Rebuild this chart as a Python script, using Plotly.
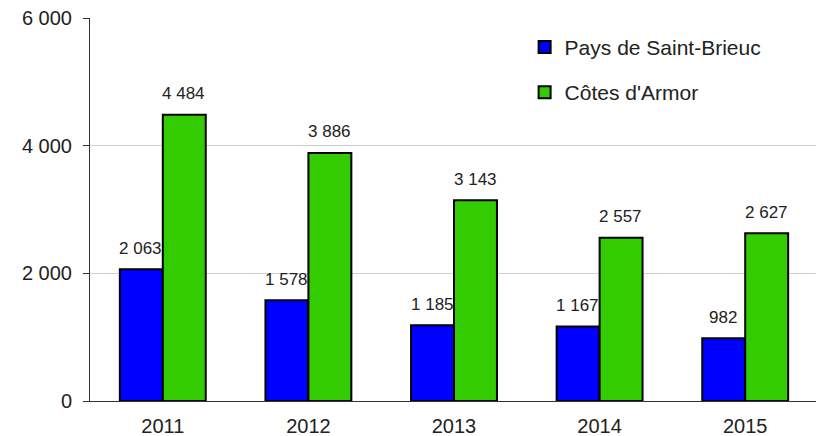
import plotly.graph_objects as go

years = ["2011", "2012", "2013", "2014", "2015"]
pays_sb = [2063, 1578, 1185, 1167, 982]
cotes_armor = [4484, 3886, 3143, 2557, 2627]
series_names = ["Pays de Saint-Brieuc", "Côtes d'Armor"]
tick_vals = [0, 2000, 4000, 6000]
tick_text = ["0", "2 000", "4 000", "6 000"]

def fmt(v):
    return f"{v:,}".replace(",", " ")

font = "Liberation Sans, Arial, sans-serif"
fig = go.Figure()
fig.add_trace(go.Bar(x=years, y=pays_sb, name=series_names[0], legendgroup="a",
                     marker=dict(color="#0000FF", line=dict(color="black", width=2))))
fig.add_trace(go.Bar(x=years, y=cotes_armor, name=series_names[1], legendgroup="b",
                     marker=dict(color="#33CC00", line=dict(color="black", width=2))))

anns = []
for i, y in enumerate(years):
    anns.append(dict(x=i, y=pays_sb[i], text=fmt(pays_sb[i]), showarrow=False,
                     xshift=-22, yshift=21, font=dict(size=17, color="#222")))
    anns.append(dict(x=i, y=cotes_armor[i], text=fmt(cotes_armor[i]), showarrow=False,
                     xshift=21, yshift=21, font=dict(size=17, color="#222")))

fig.update_layout(
    width=816, height=428,
    margin=dict(l=82, r=6, t=10, b=35),
    paper_bgcolor="white", plot_bgcolor="white",
    font=dict(family=font, size=20, color="#222"),
    barmode="group", bargap=0.41, bargroupgap=0,
    annotations=anns,
    legend=dict(x=0.597, y=0.977, xanchor="left", yanchor="top",
                font=dict(size=21), tracegroupgap=15, bgcolor="rgba(0,0,0,0)"),
    xaxis=dict(type="category", range=[-0.5, 4.5], showline=True, linecolor="#333",
               linewidth=1, ticks="", tickfont=dict(size=20), ticklabelstandoff=7,
               ticklabeloverflow="allow", automargin=False),
    yaxis=dict(range=[0, 6000], tickvals=tick_vals, ticktext=tick_text,
               showline=True, linecolor="#333", linewidth=1, ticks="outside",
               ticklen=6, tickcolor="#333", gridcolor="#d0d0d0", gridwidth=1,
               zeroline=False, tickfont=dict(size=20), ticklabelstandoff=7,
               ticklabeloverflow="allow", automargin=False),
)
fig.write_html("out.html")
